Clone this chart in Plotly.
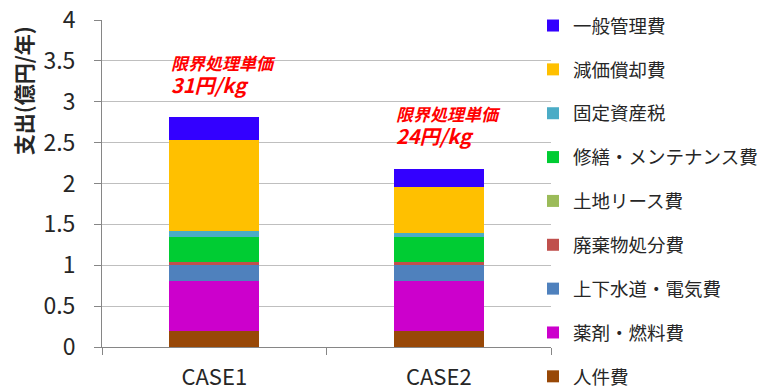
import plotly.graph_objects as go

# Annual expenditure breakdown (100 million yen / year) for two cases
cases = ["CASE1", "CASE2"]

# Stack order from bottom to top
labor = [0.20, 0.20]            # 人件費
chemicals_fuel = [0.61, 0.61]   # 薬剤・燃料費
water_power = [0.195, 0.195]    # 上下水道・電気費
waste_disposal = [0.03, 0.03]   # 廃棄物処分費
land_lease = [0.0, 0.0]         # 土地リース費
maintenance = [0.305, 0.305]    # 修繕・メンテナンス費
property_tax = [0.085, 0.05]    # 固定資産税
depreciation = [1.105, 0.565]   # 減価償却費
admin = [0.28, 0.22]            # 一般管理費

unit_cost_title = "限界処理単価"
unit_cost = ["31円/kg", "24円/kg"]
y_ticks = [0, 0.5, 1, 1.5, 2, 2.5, 3, 3.5, 4]

series = [
    ("人件費", labor, "#984807"),
    ("薬剤・燃料費", chemicals_fuel, "#CC00CC"),
    ("上下水道・電気費", water_power, "#4F81BD"),
    ("廃棄物処分費", waste_disposal, "#C0504D"),
    ("土地リース費", land_lease, "#9BBB59"),
    ("修繕・メンテナンス費", maintenance, "#00CC33"),
    ("固定資産税", property_tax, "#4BACC6"),
    ("減価償却費", depreciation, "#FFC000"),
    ("一般管理費", admin, "#3300FF"),
]

FONT = "Noto Sans CJK JP"
TEXT = "#262626"

# Plot-area geometry in pixels
L, R, T, B = 102, 551, 19.5, 347.5
W, H = R - L, B - T

fig = go.Figure()
n = len(series)
for i, (name, vals, color) in enumerate(series):
    fig.add_trace(go.Bar(
        x=cases, y=vals, name=name, legendgroup=name,
        legendrank=n - i,  # top of the stack is listed first
        marker=dict(color=color, line=dict(width=0)),
    ))

# Red unit-cost labels above each bar
label_pos = [(0, 3.329), (1, 2.713)]
for (xi, yc), cost in zip(label_pos, unit_cost):
    fig.add_annotation(
        x=xi, y=yc, xref="x", yref="y", xanchor="left", yanchor="middle",
        xshift=-45, align="left", showarrow=False,
        text=("<b><i><span style='font-size:17px'>" + unit_cost_title + "</span><br>"
              "<span style='font-size:20px'>" + cost + "</span></i></b>"),
        font=dict(family=FONT, size=18, color="#FF0000"),
    )

# Y-axis title, placed toward the upper part of the axis
fig.add_annotation(x=(23 - L) / W, y=1 - (91 - T) / H, xref="paper", yref="paper",
                   xanchor="center", yanchor="middle",
                   text="<b>支出(億円/年)</b>", textangle=-90, showarrow=False,
                   font=dict(family=FONT, size=21, color=TEXT))

fig.update_layout(
    width=765, height=392,
    margin=dict(l=L, r=765 - R, t=T, b=392 - B, autoexpand=False),
    barmode="stack", bargap=0.6,
    plot_bgcolor="white", paper_bgcolor="white",
    font=dict(family=FONT, color=TEXT),
    showlegend=True,
    legend=dict(
        x=(533 - L) / W, xanchor="left", yref="container", y=1 - 7 / 392, yanchor="top",
        traceorder="grouped", tracegroupgap=16.8, maxheight=1.0,
        font=dict(family=FONT, size=18.5, color=TEXT),
        bgcolor="rgba(0,0,0,0)",
    ),
    xaxis=dict(
        showline=True, linecolor="#868686", linewidth=1,
        ticks="outside", tickson="boundaries", ticklen=7, tickcolor="#868686",
        tickfont=dict(family=FONT, size=22, color=TEXT), ticklabelstandoff=11,
        showgrid=False,
    ),
    yaxis=dict(
        range=[0, 4], tickvals=y_ticks, ticktext=[f"{v:g}" for v in y_ticks],
        showline=True, linecolor="#868686", linewidth=1,
        ticks="outside", ticklen=7, tickcolor="#868686",
        tickfont=dict(family=FONT, size=23, color=TEXT), ticklabelstandoff=14,
        showgrid=True, gridcolor="#BFBFBF", gridwidth=1,
        zeroline=False,
    ),
)

fig.write_html("out.html")
